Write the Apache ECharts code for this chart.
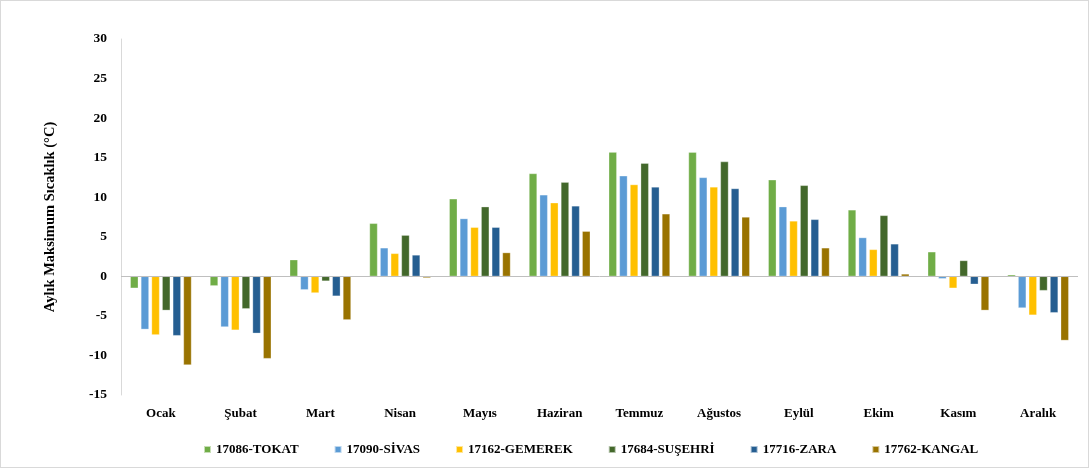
<!DOCTYPE html>
<html>
<head>
<meta charset="utf-8">
<script src="https://cdn.jsdelivr.net/npm/echarts@6/dist/echarts.min.js"></script>
<style>
  html, body { margin: 0; padding: 0; background: #fff; }
  #chart { width: 1089px; height: 468px; box-sizing: border-box; border: 1px solid #d9d9d9; }
</style>
</head>
<body>
<div id="chart"></div>
<script>
// aylar
const months = ['Ocak', 'Şubat', 'Mart', 'Nisan', 'Mayıs', 'Haziran', 'Temmuz', 'Ağustos', 'Eylül', 'Ekim', 'Kasım', 'Aralık']

// istasyonlar (aylık maksimum sıcaklık, °C)
const tokat   = [-1.5, -1.2, 2.1, 6.7, 9.8, 13.0, 15.7, 15.7, 12.2, 8.4, 3.1, 0.2]
const sivas   = [-6.7, -6.4, -1.7, 3.6, 7.3, 10.3, 12.7, 12.5, 8.8, 4.9, -0.3, -4.0]
const gemerek = [-7.4, -6.8, -2.1, 2.9, 6.2, 9.3, 11.6, 11.3, 7.0, 3.4, -1.5, -4.9]
const susehri = [-4.3, -4.1, -0.6, 5.2, 8.8, 11.9, 14.3, 14.5, 11.5, 7.7, 2.0, -1.8]
const zara    = [-7.5, -7.2, -2.5, 2.7, 6.2, 8.9, 11.3, 11.1, 7.2, 4.1, -1.0, -4.6]
const kangal  = [-11.2, -10.4, -5.5, -0.2, 3.0, 5.7, 7.9, 7.5, 3.6, 0.3, -4.3, -8.1]

const stations = [
  { name: '17086-TOKAT', data: tokat, color: '#70AD47' },
  { name: '17090-SİVAS', data: sivas, color: '#5B9BD5' },
  { name: '17162-GEMEREK', data: gemerek, color: '#FFC000' },
  { name: '17684-SUŞEHRİ', data: susehri, color: '#43682B' },
  { name: '17716-ZARA', data: zara, color: '#255E91' },
  { name: '17762-KANGAL', data: kangal, color: '#997300' }
]

const font = { fontFamily: 'Liberation Serif', fontWeight: 'bold', fontSize: 13, color: '#000' }

const chart = echarts.init(document.getElementById('chart'))

const series = stations.map((s, i) => {
  const item = {
    name: s.name,
    type: 'bar',
    data: s.data,
    barWidth: 8,
    barGap: '33%',
    itemStyle: { color: s.color, borderColor: 'rgba(255,255,255,0.6)', borderWidth: 0.5 }
  }
  // sıfır çizgisi
  if (i === 0) {
    item.markLine = {
      silent: true,
      symbol: 'none',
      label: { show: false },
      lineStyle: { color: '#bfbfbf', width: 1, type: 'solid' },
      data: [{ yAxis: 0 }]
    }
  }
  return item
})

chart.setOption({
  animation: false,
  grid: { left: 120, right: 10, top: 38, bottom: 72 },
  legend: {
    bottom: 6,
    left: 197,
    itemWidth: 7,
    itemHeight: 7,
    itemGap: 35,
    icon: 'rect',
    textStyle: font,
    data: stations.map(s => s.name)
  },
  xAxis: {
    type: 'category',
    data: months,
    axisLine: { show: false, onZero: false },
    axisTick: { show: false },
    axisLabel: { ...font, margin: 12 }
  },
  yAxis: {
    type: 'value',
    min: -15,
    max: 30,
    interval: 5,
    name: 'Aylık Maksimum Sıcaklık (°C)',
    nameLocation: 'middle',
    nameGap: 63,
    nameTextStyle: { ...font, fontSize: 14.5 },
    axisLine: { show: true, lineStyle: { color: '#d9d9d9' } },
    axisTick: { show: false },
    splitLine: { show: false },
    axisLabel: { ...font, fontSize: 13.5, margin: 14 }
  },
  series: series
})
</script>
</body>
</html>
